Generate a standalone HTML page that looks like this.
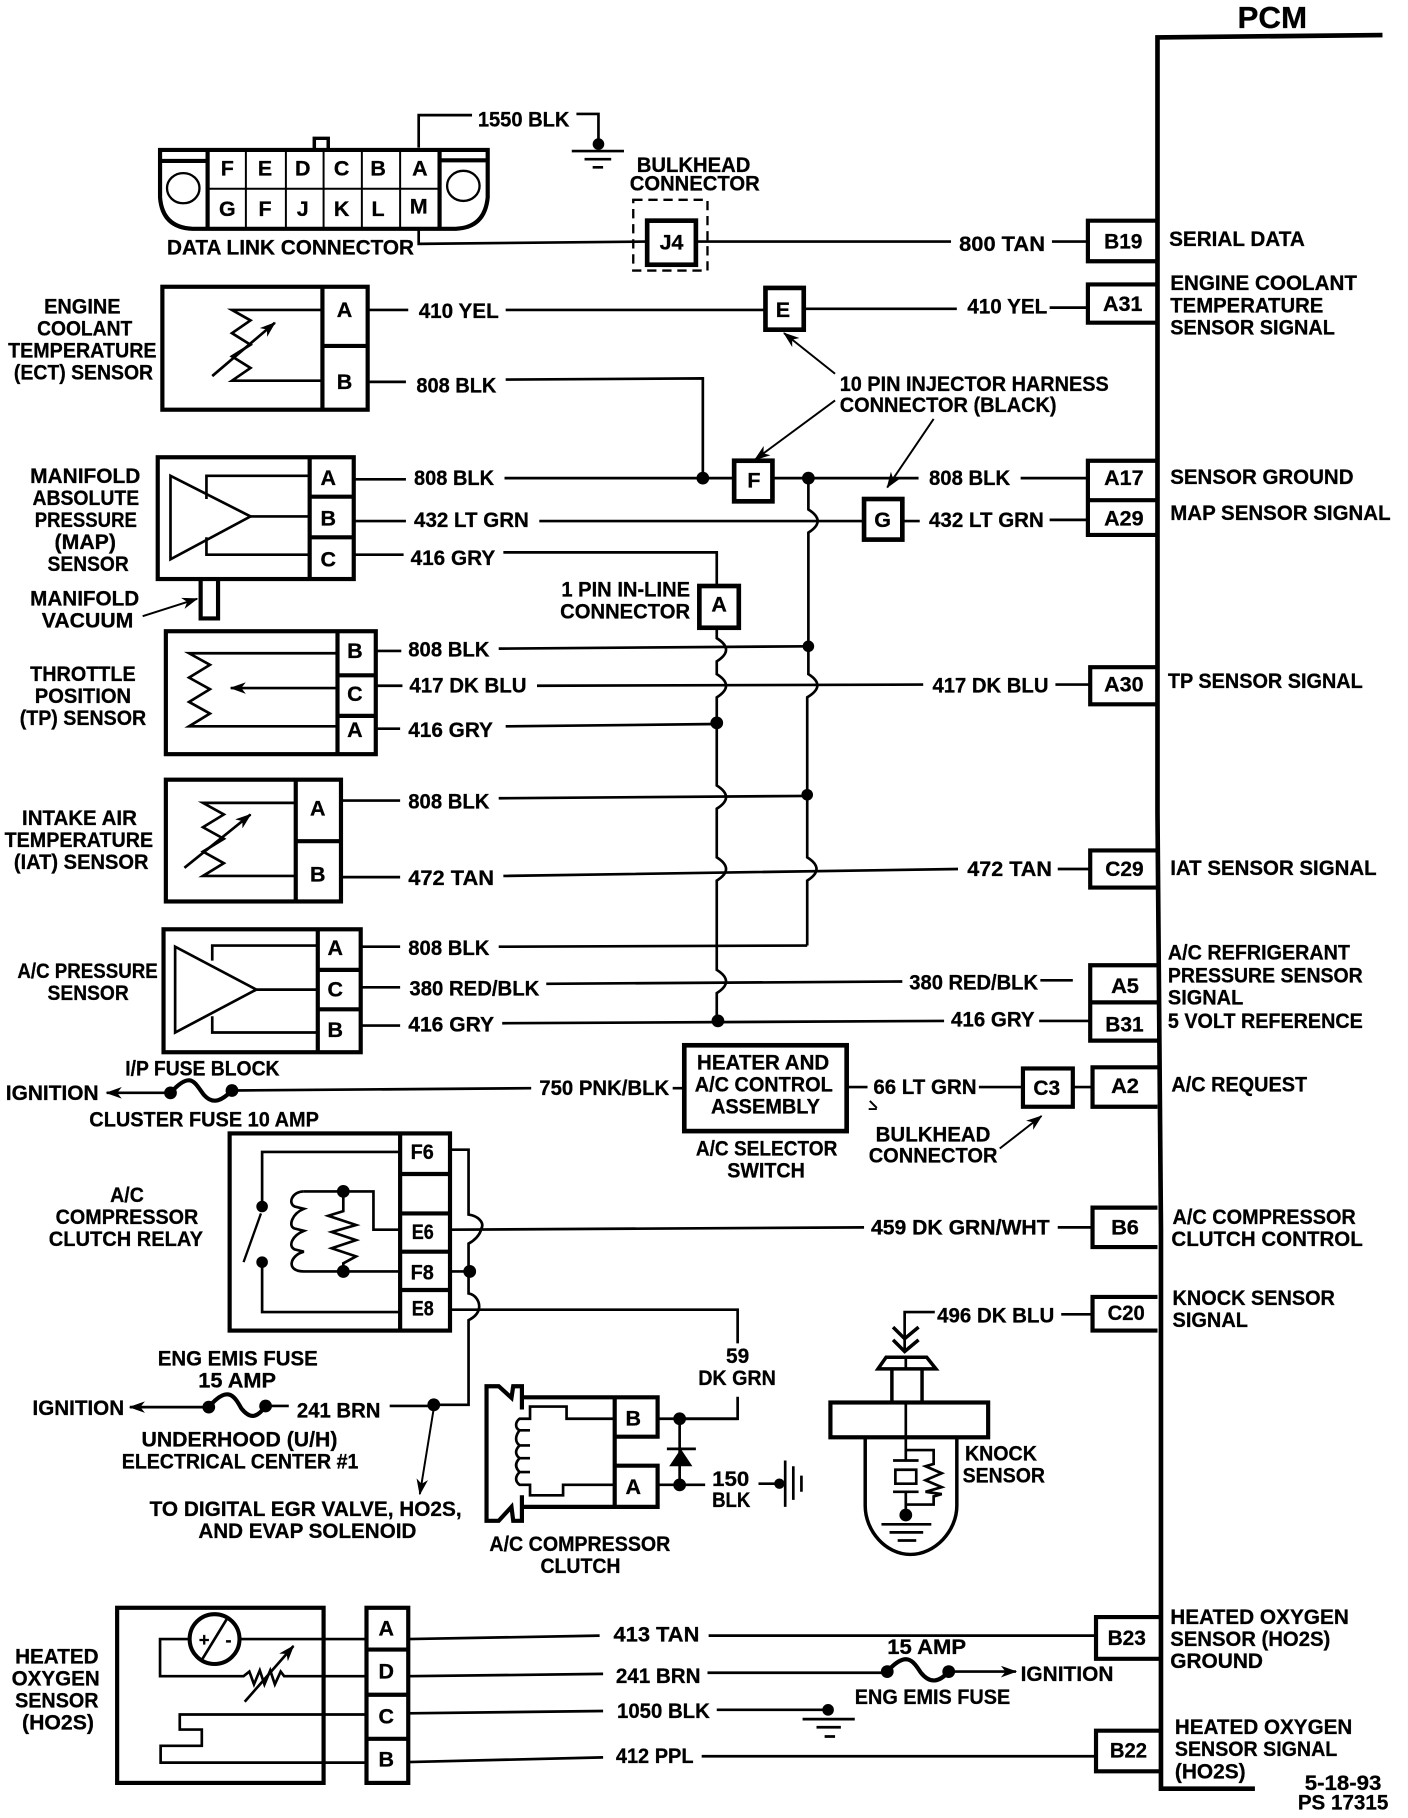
<!DOCTYPE html>
<html>
<head>
<meta charset="utf-8">
<style>
html,body{margin:0;padding:0;background:#fff;width:1408px;height:1818px;overflow:hidden}
svg{display:block}
text{font-family:"Liberation Sans",sans-serif;font-weight:bold;font-size:18.5px;fill:#000;stroke:#000;stroke-width:.25}
.c{text-anchor:middle}
.w{fill:none;stroke:#000;stroke-width:2.3}
.t{fill:none;stroke:#000;stroke-width:1.7}
.b{fill:#fff;stroke:#000;stroke-width:4}
.n{fill:none;stroke:#000;stroke-width:3.6}
.d{fill:#000}
</style>
</head>
<body>
<svg width="1408" height="1818" viewBox="0 0 1214 1567" xmlns="http://www.w3.org/2000/svg">
<defs>
<marker id="a" markerWidth="14" markerHeight="10" refX="13" refY="5" orient="auto" markerUnits="userSpaceOnUse"><path d="M0 0L14 5L0 10L4 5Z" fill="#000"/></marker>
</defs>
<rect width="1214" height="1567" fill="#fff"/>

<!-- PCM -->
<path d="M1192 30L998 32V700L1001 1060V1542H1082" fill="none" stroke="#000" stroke-width="4"/>
<text x="1067" y="24" textLength="60" lengthAdjust="spacingAndGlyphs" style="font-size:26px">PCM</text>

<!-- pin boxes -->
<g class="n">
<path class="n" d="M998 190H938V225H998"/>
<path class="n" d="M998 245H938V278H998"/>
<path class="n" d="M998 397H938V461H998M938 431H998"/>
<path class="n" d="M998 575H940V607H998"/>
<path class="n" d="M998 733H940V765H998"/>
<path class="n" d="M998 832H940V897H998M940 864H998"/>
<path class="n" d="M998 920H942V954H998"/>
<path class="n" d="M998 1041H942V1075H998"/>
<path class="n" d="M998 1118H942V1147H998"/>
<path class="n" d="M1000 1394H945V1430H1000"/>
<path class="n" d="M1000 1492H945V1527H1000"/>
</g>

<!-- Data link connector -->
<path class="n" d="M138 129H420.500V170Q418 196 393 197H166Q140 196 138 170Z"/>
<path class="n" d="M179 129V197M379 129V197M138 138.500H179M379 138H420"/>
<path class="t" d="M179 162.500H379M212 129V197M246.500 129V197M279 129V197M312 129V197M345 129V197"/>
<ellipse class="t" cx="158" cy="162" rx="14" ry="13" style="stroke-width:2"/>
<ellipse class="t" cx="399.500" cy="160" rx="14" ry="13" style="stroke-width:2"/>
<path class="n" d="M271 128V119H283V128" style="stroke-width:3"/>
<text class="c" x="196" y="151">F</text><text class="c" x="228.500" y="151">E</text><text class="c" x="261" y="151">D</text><text class="c" x="294.500" y="151">C</text><text class="c" x="326" y="151">B</text><text class="c" x="362" y="151">A</text>
<text class="c" x="196" y="186">G</text><text class="c" x="228.500" y="186">F</text><text class="c" x="261" y="186">J</text><text class="c" x="294.500" y="186">K</text><text class="c" x="326" y="186">L</text><text class="c" x="361" y="184">M</text>
<path class="w" d="M361 127V99H407M497 98H516V124"/>
<circle class="d" cx="516" cy="124" r="5"/>
<path class="w" d="M493 130H538M504 137H527M511 144H520"/>
<text x="412" y="109" textLength="79" lengthAdjust="spacingAndGlyphs">1550 BLK</text>
<text x="549" y="148" textLength="98" lengthAdjust="spacingAndGlyphs">BULKHEAD</text>
<text x="543" y="164" textLength="112" lengthAdjust="spacingAndGlyphs">CONNECTOR</text>
<text x="144" y="219" textLength="213" lengthAdjust="spacingAndGlyphs">DATA LINK CONNECTOR</text>
<rect x="546" y="172" width="64" height="61" fill="none" stroke="#000" stroke-width="2" stroke-dasharray="8 5"/>
<path class="w" d="M361 197V210L558 208M600 208H820M907 208H938"/>
<rect class="b" x="558" y="190" width="42" height="38"/>
<text class="c" x="579" y="215">J4</text>
<text x="827" y="216" textLength="74" lengthAdjust="spacingAndGlyphs">800 TAN</text>
<text x="952" y="214" textLength="33" lengthAdjust="spacingAndGlyphs">B19</text>
<text x="1008" y="212" textLength="117" lengthAdjust="spacingAndGlyphs">SERIAL DATA</text>

<!-- ECT -->
<rect class="n" x="140" y="247" width="177" height="106"/>
<path class="n" d="M278 247V353M278 298H317"/>
<path class="w" d="M278 267H200L216 276L200 287L216 297L200 307L216 317L200 328H278"/>
<path class="w" d="M183 324L237 278" marker-end="url(#a)"/>
<text x="38" y="270" textLength="66" lengthAdjust="spacingAndGlyphs">ENGINE</text>
<text x="32" y="289" textLength="82" lengthAdjust="spacingAndGlyphs">COOLANT</text>
<text x="7" y="308" textLength="128" lengthAdjust="spacingAndGlyphs">TEMPERATURE</text>
<text x="12" y="327" textLength="120" lengthAdjust="spacingAndGlyphs">(ECT) SENSOR</text>
<text class="c" x="297" y="273">A</text><text class="c" x="297" y="335">B</text>
<path class="w" d="M317 267H352M436 267H660M693 266H825M905 265H938"/>
<path class="w" d="M317 329H350M436 327L606 326V412"/>
<rect class="b" x="660" y="248" width="33" height="36"/>
<text class="c" x="675" y="273">E</text>
<text x="361" y="274" textLength="69" lengthAdjust="spacingAndGlyphs">410 YEL</text>
<text x="834" y="270" textLength="69" lengthAdjust="spacingAndGlyphs">410 YEL</text>
<text x="951" y="268" textLength="34" lengthAdjust="spacingAndGlyphs">A31</text>
<text x="1009" y="250" textLength="161" lengthAdjust="spacingAndGlyphs">ENGINE COOLANT</text>
<text x="1009" y="269" textLength="132" lengthAdjust="spacingAndGlyphs">TEMPERATURE</text>
<text x="1009" y="288" textLength="142" lengthAdjust="spacingAndGlyphs">SENSOR SIGNAL</text>
<text x="359" y="338" textLength="69" lengthAdjust="spacingAndGlyphs">808 BLK</text>
<text x="724" y="337" textLength="232" lengthAdjust="spacingAndGlyphs">10 PIN INJECTOR HARNESS</text>
<text x="724" y="355" textLength="187" lengthAdjust="spacingAndGlyphs">CONNECTOR (BLACK)</text>
<path class="t" d="M720 322L676 287" marker-end="url(#a)"/>
<path class="t" d="M720 345L651 396" marker-end="url(#a)"/>
<path class="t" d="M805 361L765 420" marker-end="url(#a)"/>

<!-- MAP -->
<rect class="n" x="136" y="394" width="169" height="105"/>
<path class="n" d="M267 394V499M267 428H305M267 463H305"/>
<path class="w" d="M147 410V482L216 445Z"/>
<path class="w" d="M178 430V410H267M216 445H267M178 463V478H267"/>
<text x="26" y="416" textLength="95" lengthAdjust="spacingAndGlyphs">MANIFOLD</text>
<text x="28" y="435" textLength="92" lengthAdjust="spacingAndGlyphs">ABSOLUTE</text>
<text x="30" y="454" textLength="88" lengthAdjust="spacingAndGlyphs">PRESSURE</text>
<text x="47" y="473" textLength="53" lengthAdjust="spacingAndGlyphs">(MAP)</text>
<text x="41" y="492" textLength="70" lengthAdjust="spacingAndGlyphs">SENSOR</text>
<text class="c" x="283" y="418">A</text><text class="c" x="283" y="453">B</text><text class="c" x="283" y="488">C</text>
<path class="w" d="M305 413H350M435 412H633M667 412H792M880 412H938"/>
<path class="w" d="M305 449H350M465 449H745M778 449H793M905 448H938"/>
<path class="w" d="M305 478H348M434 476H618V504"/>
<circle class="d" cx="606" cy="412" r="5.500"/><circle class="d" cx="697" cy="412" r="5.500"/>
<rect class="b" x="633" y="397" width="33" height="35"/>
<text class="c" x="650" y="420">F</text>
<rect class="b" x="745" y="430" width="33" height="35"/>
<text class="c" x="761" y="454">G</text>
<rect class="b" x="603" y="505" width="34" height="36"/>
<text class="c" x="620" y="527">A</text>
<text x="357" y="418" textLength="69" lengthAdjust="spacingAndGlyphs">808 BLK</text>
<text x="357" y="454" textLength="99" lengthAdjust="spacingAndGlyphs">432 LT GRN</text>
<text x="354" y="487" textLength="73" lengthAdjust="spacingAndGlyphs">416 GRY</text>
<text x="801" y="418" textLength="70" lengthAdjust="spacingAndGlyphs">808 BLK</text>
<text x="801" y="454" textLength="99" lengthAdjust="spacingAndGlyphs">432 LT GRN</text>
<text x="952" y="418" textLength="34" lengthAdjust="spacingAndGlyphs">A17</text>
<text x="952" y="453" textLength="34" lengthAdjust="spacingAndGlyphs">A29</text>
<text x="1009" y="417" textLength="158" lengthAdjust="spacingAndGlyphs">SENSOR GROUND</text>
<text x="1009" y="448" textLength="190" lengthAdjust="spacingAndGlyphs">MAP SENSOR SIGNAL</text>
<text x="484" y="514" textLength="111" lengthAdjust="spacingAndGlyphs">1 PIN IN-LINE</text>
<text x="483" y="533" textLength="112" lengthAdjust="spacingAndGlyphs">CONNECTOR</text>
<text x="26" y="522" textLength="94" lengthAdjust="spacingAndGlyphs">MANIFOLD</text>
<text x="36" y="541" textLength="79" lengthAdjust="spacingAndGlyphs">VACUUM</text>
<path class="n" d="M173 500V533H188V500"/>
<path class="t" d="M123 531L170 516" marker-end="url(#a)"/>

<!-- vertical buses -->
<path class="w" d="M618 541V550Q634 560 618 570V581Q634 591 618 601V677Q634 687 618 697V739Q634 749 618 759V836Q634 846 618 856V880"/>
<path class="w" d="M697 412V439Q713 449 697 459V581Q713 591 696 601V739Q712 749 696 759V815"/>

<!-- TP -->
<rect class="n" x="143" y="544" width="181" height="106"/>
<path class="n" d="M291 544V650M291 582H324M291 617H324"/>
<path class="w" d="M291 563H163L181 573L163 584L181 594L163 605L181 615L163 626H291"/>
<path class="w" d="M291 593H199" marker-end="url(#a)"/>
<text x="26" y="587" textLength="91" lengthAdjust="spacingAndGlyphs">THROTTLE</text>
<text x="30" y="606" textLength="83" lengthAdjust="spacingAndGlyphs">POSITION</text>
<text x="17" y="625" textLength="109" lengthAdjust="spacingAndGlyphs">(TP) SENSOR</text>
<text class="c" x="306" y="567">B</text><text class="c" x="306" y="604">C</text><text class="c" x="306" y="635">A</text>
<path class="w" d="M324 561H346M430 559L696 557M324 591H347M463 591L796 590M910 590H940M324 628H345M436 626L618 624"/>
<circle class="d" cx="697" cy="557" r="5"/><circle class="d" cx="618" cy="623" r="5.500"/>
<text x="352" y="566" textLength="70" lengthAdjust="spacingAndGlyphs">808 BLK</text>
<text x="353" y="597" textLength="101" lengthAdjust="spacingAndGlyphs">417 DK BLU</text>
<text x="352" y="635" textLength="73" lengthAdjust="spacingAndGlyphs">416 GRY</text>
<text x="804" y="597" textLength="100" lengthAdjust="spacingAndGlyphs">417 DK BLU</text>
<text x="952" y="596" textLength="34" lengthAdjust="spacingAndGlyphs">A30</text>
<text x="1007" y="593" textLength="168" lengthAdjust="spacingAndGlyphs">TP SENSOR SIGNAL</text>

<!-- IAT -->
<rect class="n" x="143" y="672" width="151" height="105"/>
<path class="n" d="M255 672V777M255 725H294"/>
<path class="w" d="M255 692H175L193 702L175 713L193 723L175 734L193 744L175 755H255"/>
<path class="w" d="M159 748L216 702" marker-end="url(#a)"/>
<text x="19" y="711" textLength="99" lengthAdjust="spacingAndGlyphs">INTAKE AIR</text>
<text x="4" y="730" textLength="128" lengthAdjust="spacingAndGlyphs">TEMPERATURE</text>
<text x="12" y="749" textLength="116" lengthAdjust="spacingAndGlyphs">(IAT) SENSOR</text>
<text class="c" x="274" y="703">A</text><text class="c" x="274" y="760">B</text>
<path class="w" d="M294 690H345M430 688L696 686M294 756H345M434 755L826 749M912 749H940"/>
<circle class="d" cx="696" cy="685" r="5"/>
<text x="352" y="697" textLength="70" lengthAdjust="spacingAndGlyphs">808 BLK</text>
<text x="352" y="763" textLength="74" lengthAdjust="spacingAndGlyphs">472 TAN</text>
<text x="834" y="755" textLength="73" lengthAdjust="spacingAndGlyphs">472 TAN</text>
<text x="953" y="755" textLength="33" lengthAdjust="spacingAndGlyphs">C29</text>
<text x="1009" y="754" textLength="178" lengthAdjust="spacingAndGlyphs">IAT SENSOR SIGNAL</text>

<!-- A/C pressure -->
<rect class="n" x="141" y="801" width="170" height="106"/>
<path class="n" d="M274 801V907M274 836H311M274 870H311"/>
<path class="w" d="M151 816V890L221 853Z"/>
<path class="w" d="M183 828V815H274M221 853H274M183 876V890H274"/>
<text x="15" y="843" textLength="121" lengthAdjust="spacingAndGlyphs">A/C PRESSURE</text>
<text x="41" y="862" textLength="70" lengthAdjust="spacingAndGlyphs">SENSOR</text>
<text class="c" x="289" y="823">A</text><text class="c" x="289" y="859">C</text><text class="c" x="289" y="894">B</text>
<path class="w" d="M311 816H345M430 816L696 815M311 851H345M471 848L778 846M897 845H925M311 884H345M433 882L814 880M896 880H940"/>
<circle class="d" cx="619" cy="880" r="5.500"/>
<text x="352" y="823" textLength="70" lengthAdjust="spacingAndGlyphs">808 BLK</text>
<text x="353" y="858" textLength="112" lengthAdjust="spacingAndGlyphs">380 RED/BLK</text>
<text x="352" y="889" textLength="74" lengthAdjust="spacingAndGlyphs">416 GRY</text>
<text x="784" y="853" textLength="111" lengthAdjust="spacingAndGlyphs">380 RED/BLK</text>
<text x="820" y="885" textLength="72" lengthAdjust="spacingAndGlyphs">416 GRY</text>
<text x="958" y="856" textLength="24" lengthAdjust="spacingAndGlyphs">A5</text>
<text x="953" y="889" textLength="33" lengthAdjust="spacingAndGlyphs">B31</text>
<text x="1007" y="827" textLength="157" lengthAdjust="spacingAndGlyphs">A/C REFRIGERANT</text>
<text x="1007" y="847" textLength="168" lengthAdjust="spacingAndGlyphs">PRESSURE SENSOR</text>
<text x="1007" y="866" textLength="65" lengthAdjust="spacingAndGlyphs">SIGNAL</text>
<text x="1007" y="886" textLength="168" lengthAdjust="spacingAndGlyphs">5 VOLT REFERENCE</text>

<!-- Ignition / cluster fuse -->
<path class="w" d="M147 942H92" marker-end="url(#a)"/>
<path class="n" d="M147 942C165 922 168 934 176 944C184 953 192 948 200 940"/>
<circle class="d" cx="147" cy="942" r="5.500"/><circle class="d" cx="200" cy="940" r="5.500"/>
<path class="w" d="M200 940L458 938M580 938H590"/>
<text x="108" y="927" textLength="133" lengthAdjust="spacingAndGlyphs">I/P FUSE BLOCK</text>
<text x="5" y="948" textLength="80" lengthAdjust="spacingAndGlyphs">IGNITION</text>
<text x="77" y="971" textLength="198" lengthAdjust="spacingAndGlyphs">CLUSTER FUSE 10 AMP</text>
<text x="465" y="944" textLength="112" lengthAdjust="spacingAndGlyphs">750 PNK/BLK</text>
<rect class="n" x="590" y="901" width="140" height="74" style="stroke-width:4"/>
<text x="601" y="922" textLength="114" lengthAdjust="spacingAndGlyphs">HEATER AND</text>
<text x="599" y="941" textLength="119" lengthAdjust="spacingAndGlyphs">A/C CONTROL</text>
<text x="613" y="960" textLength="94" lengthAdjust="spacingAndGlyphs">ASSEMBLY</text>
<text x="600" y="996" textLength="122" lengthAdjust="spacingAndGlyphs">A/C SELECTOR</text>
<text x="627" y="1015" textLength="67" lengthAdjust="spacingAndGlyphs">SWITCH</text>
<path class="w" d="M731 937H748M844 937H881M925 937H942"/>
<rect class="n" x="882" y="921" width="43" height="33"/>
<text x="753" y="943" textLength="89" lengthAdjust="spacingAndGlyphs">66 LT GRN</text>
<text x="891" y="944" textLength="23" lengthAdjust="spacingAndGlyphs">C3</text>
<text x="958" y="942" textLength="24" lengthAdjust="spacingAndGlyphs">A2</text>
<text x="1010" y="941" textLength="117" lengthAdjust="spacingAndGlyphs">A/C REQUEST</text>
<text x="755" y="984" textLength="99" lengthAdjust="spacingAndGlyphs">BULKHEAD</text>
<text x="749" y="1002" textLength="111" lengthAdjust="spacingAndGlyphs">CONNECTOR</text>
<path class="t" d="M862 990L898 962" marker-end="url(#a)"/>
<path class="t" d="M750 949L756 955M749 956H756"/>

<!-- relay -->
<rect class="n" x="198" y="977" width="190" height="170"/>
<path class="n" d="M345 977V1147M345 1012H388M345 1046H388M345 1079H388M345 1112H388"/>
<path class="w" d="M345 993H226V1040M226 1088V1131H345"/>
<path class="t" d="M210 1088L225 1046" style="stroke-width:2"/>
<circle class="d" cx="226" cy="1040" r="5"/><circle class="d" cx="226" cy="1088" r="5"/>
<path class="w" d="M262 1027C252 1027 248 1037 254 1040L262 1042C252 1046 248 1057 254 1059L262 1061C252 1065 248 1074 254 1077L262 1079C250 1082 246 1096 262 1096H345"/>
<path class="w" d="M262 1027H322V1060H345M296 1027V1044L283 1048L307 1056L286 1062L307 1069L286 1076L307 1083L296 1089V1096"/>
<circle class="d" cx="296" cy="1027" r="5.500"/><circle class="d" cx="296" cy="1096" r="5.500"/>
<text x="95" y="1036" textLength="29" lengthAdjust="spacingAndGlyphs">A/C</text>
<text x="48" y="1055" textLength="123" lengthAdjust="spacingAndGlyphs">COMPRESSOR</text>
<text x="42" y="1074" textLength="133" lengthAdjust="spacingAndGlyphs">CLUTCH RELAY</text>
<text x="354" y="999" textLength="20" lengthAdjust="spacingAndGlyphs">F6</text>
<text x="355" y="1068" textLength="19" lengthAdjust="spacingAndGlyphs">E6</text>
<text x="354" y="1103" textLength="20" lengthAdjust="spacingAndGlyphs">F8</text>
<text x="355" y="1134" textLength="19" lengthAdjust="spacingAndGlyphs">E8</text>
<path class="w" d="M388 991H404V1047C412 1048 418 1054 415 1059C414 1065 408 1070 404 1072V1115C410 1116 414 1122 413 1128C412 1133 408 1136 404 1138V1211H374"/>
<path class="w" d="M388 1096H405"/><circle class="d" cx="405" cy="1096" r="5.500"/>
<path class="w" d="M388 1060L745 1058M912 1058H942"/>
<path class="w" d="M388 1129H636V1158M636 1204V1223H586"/>
<text x="751" y="1064" textLength="154" lengthAdjust="spacingAndGlyphs">459 DK GRN/WHT</text>
<text x="958" y="1064" textLength="24" lengthAdjust="spacingAndGlyphs">B6</text>
<text x="1011" y="1055" textLength="158" lengthAdjust="spacingAndGlyphs">A/C COMPRESSOR</text>
<text x="1010" y="1074" textLength="165" lengthAdjust="spacingAndGlyphs">CLUTCH  CONTROL</text>
<text x="955" y="1138" textLength="32" lengthAdjust="spacingAndGlyphs">C20</text>
<text x="1011" y="1125" textLength="140" lengthAdjust="spacingAndGlyphs">KNOCK SENSOR</text>
<text x="1011" y="1144" textLength="65" lengthAdjust="spacingAndGlyphs">SIGNAL</text>
<text x="626" y="1175" textLength="20" lengthAdjust="spacingAndGlyphs">59</text>
<text x="602" y="1194" textLength="67" lengthAdjust="spacingAndGlyphs">DK GRN</text>

<!-- eng emis fuse -->
<text x="136" y="1177" textLength="138" lengthAdjust="spacingAndGlyphs">ENG EMIS  FUSE</text>
<text x="171" y="1196" textLength="67" lengthAdjust="spacingAndGlyphs">15 AMP</text>
<text x="28" y="1220" textLength="79" lengthAdjust="spacingAndGlyphs">IGNITION</text>
<text x="256" y="1222" textLength="72" lengthAdjust="spacingAndGlyphs">241 BRN</text>
<path class="w" d="M178 1213H112" marker-end="url(#a)"/>
<path class="n" d="M180 1213C196 1194 202 1203 208 1214C216 1224 222 1222 229 1212"/>
<circle class="d" cx="180" cy="1213" r="5.500"/><circle class="d" cx="229" cy="1212" r="5.500"/>
<path class="w" d="M229 1212H249M336 1212H374"/>
<circle class="d" cx="374" cy="1211" r="5.500"/>
<path class="t" d="M374 1214L362 1288" marker-end="url(#a)"/>
<text x="122" y="1247" textLength="169" lengthAdjust="spacingAndGlyphs">UNDERHOOD (U/H)</text>
<text x="105" y="1266" textLength="204" lengthAdjust="spacingAndGlyphs">ELECTRICAL CENTER #1</text>
<text x="129" y="1307" textLength="269" lengthAdjust="spacingAndGlyphs">TO DIGITAL EGR VALVE, HO2S,</text>
<text x="171" y="1326" textLength="188" lengthAdjust="spacingAndGlyphs">AND EVAP SOLENOID</text>

<!-- clutch -->
<path class="n" d="M450 1215V1195H442.500L441 1205L430 1195H419.500V1311H430L441 1299L442.500 1311H450V1289"/>
<path class="n" d="M450 1204.500H567V1238.500H530M530 1263.500H567V1299H450M530 1204.500V1299"/>
<path class="w" d="M529 1223H488.500V1212.500H457V1223H448C444 1226 444 1231 448 1233H457M448 1233C444 1238 444 1243 448 1246H457M448 1246C444 1250 444 1254 448 1257H457M448 1257C444 1261 444 1265 448 1269H457M448 1269C444 1273 444 1277 448 1280H457V1289H485.500V1280H529"/>
<text class="c" x="546" y="1229">B</text><text class="c" x="546" y="1288">A</text>
<path class="w" d="M567 1223H636M567 1280H608M586 1223V1280"/>
<circle class="d" cx="586" cy="1223" r="5.500"/><circle class="d" cx="586" cy="1280" r="5.500"/>
<path class="d" d="M577 1264H597L587 1249Z"/><path class="w" d="M575 1249H600"/>
<text x="614" y="1281" textLength="32" lengthAdjust="spacingAndGlyphs">150</text>
<text x="614" y="1299" textLength="33" lengthAdjust="spacingAndGlyphs">BLK</text>
<path class="w" d="M654 1279H673"/><circle class="d" cx="672" cy="1279" r="4.500"/>
<path class="w" d="M677 1259V1299M684 1264V1293M691 1272V1286"/>
<text x="422" y="1337" textLength="156" lengthAdjust="spacingAndGlyphs">A/C COMPRESSOR</text>
<text x="466" y="1356" textLength="69" lengthAdjust="spacingAndGlyphs">CLUTCH</text>

<!-- knock sensor -->
<path class="w" d="M806 1131H780V1165M915 1133H942"/>
<path class="w" d="M770 1144L780 1154L792 1144M770 1155L780 1165L792 1155" style="stroke-width:3"/>
<path class="n" d="M757 1180L764 1170H799L807 1180Z" style="stroke-width:3"/>
<path class="n" d="M769 1180V1208M795 1180V1208" style="stroke-width:3"/>
<rect class="n" x="716" y="1209" width="136" height="30"/>
<path class="w" d="M781 1170V1180M781 1209V1259M770 1259H792M772 1267H790V1279H772ZM770 1286H792M781 1286V1306"/>
<path class="n" d="M746 1239V1298C746 1320 764 1340 785 1340C806 1340 825 1320 825 1298V1239" style="stroke-width:3"/>
<path class="w" d="M781 1250H805V1262L798 1264L812 1270L798 1276L812 1282L798 1286L812 1288L805 1290V1297H781"/>
<circle class="d" cx="781" cy="1306" r="5.500"/>
<path class="w" d="M760 1314H803M767 1321H796M774 1328H790"/>
<text x="808" y="1140" textLength="101" lengthAdjust="spacingAndGlyphs">496 DK BLU</text>
<text x="832" y="1259" textLength="62" lengthAdjust="spacingAndGlyphs">KNOCK</text>
<text x="830" y="1278" textLength="71" lengthAdjust="spacingAndGlyphs">SENSOR</text>

<!-- HO2S -->
<rect class="n" x="101" y="1386" width="178" height="151"/>
<rect class="n" x="316" y="1386" width="36" height="151"/>
<path class="n" d="M316 1422H352M316 1461H352M316 1499H352"/>
<circle cx="185" cy="1413" r="21.500" fill="none" stroke="#000" stroke-width="3.500"/>
<path class="w" d="M207 1413H316M163 1413H138V1445H210L215 1441L219 1452L224 1440L228 1452L233 1440L237 1452L242 1441L245 1445H316"/>
<path class="w" d="M174 1431L196 1395"/>
<text class="c" x="176" y="1419" style="font-size:16px">+</text>
<text class="c" x="197" y="1419" style="font-size:16px">-</text>
<path class="w" d="M211 1467L253 1419" marker-end="url(#a)"/>
<path class="w" d="M316 1478H155V1491H174V1505H138.500V1519.500H316"/>
<text x="13" y="1434" textLength="72" lengthAdjust="spacingAndGlyphs">HEATED</text>
<text x="10" y="1453" textLength="76" lengthAdjust="spacingAndGlyphs">OXYGEN</text>
<text x="13" y="1472" textLength="72" lengthAdjust="spacingAndGlyphs">SENSOR</text>
<text x="19" y="1491" textLength="62" lengthAdjust="spacingAndGlyphs">(HO2S)</text>
<text class="c" x="333" y="1410">A</text><text class="c" x="333" y="1447">D</text><text class="c" x="333" y="1486">C</text><text class="c" x="333" y="1523">B</text>
<path class="w" d="M352 1413L517 1410M611 1410H945"/>
<path class="w" d="M352 1445L520 1443M610 1442H765"/>
<path class="w" d="M352 1477L520 1475M618 1474H714"/>
<path class="w" d="M352 1519L520 1515M605 1514H945"/>
<path class="n" d="M765 1441C781 1423 787 1431 794 1442C802 1452 810 1450 818 1441"/>
<circle class="d" cx="765" cy="1441" r="5.500"/><circle class="d" cx="818" cy="1441" r="5.500"/>
<path class="w" d="M818 1441H876" marker-end="url(#a)"/>
<circle class="d" cx="714" cy="1474" r="5"/>
<path class="w" d="M692 1482H737M704 1489H725M711 1497H720"/>
<text x="529" y="1415" textLength="74" lengthAdjust="spacingAndGlyphs">413 TAN</text>
<text x="531" y="1451" textLength="73" lengthAdjust="spacingAndGlyphs">241 BRN</text>
<text x="532" y="1481" textLength="80" lengthAdjust="spacingAndGlyphs">1050 BLK</text>
<text x="531" y="1520" textLength="67" lengthAdjust="spacingAndGlyphs">412 PPL</text>
<text x="765" y="1426" textLength="68" lengthAdjust="spacingAndGlyphs">15 AMP</text>
<text x="880" y="1449" textLength="80" lengthAdjust="spacingAndGlyphs">IGNITION</text>
<text x="737" y="1469" textLength="134" lengthAdjust="spacingAndGlyphs">ENG EMIS FUSE</text>
<text x="955" y="1418" textLength="33" lengthAdjust="spacingAndGlyphs">B23</text>
<text x="957" y="1515" textLength="32" lengthAdjust="spacingAndGlyphs">B22</text>
<text x="1009" y="1400" textLength="154" lengthAdjust="spacingAndGlyphs">HEATED OXYGEN</text>
<text x="1009" y="1419" textLength="138" lengthAdjust="spacingAndGlyphs">SENSOR (HO2S)</text>
<text x="1009" y="1438" textLength="80" lengthAdjust="spacingAndGlyphs">GROUND</text>
<text x="1013" y="1495" textLength="153" lengthAdjust="spacingAndGlyphs">HEATED OXYGEN</text>
<text x="1013" y="1514" textLength="140" lengthAdjust="spacingAndGlyphs">SENSOR SIGNAL</text>
<text x="1013" y="1533" textLength="61" lengthAdjust="spacingAndGlyphs">(HO2S)</text>
<text x="1125" y="1543" textLength="66" lengthAdjust="spacingAndGlyphs">5-18-93</text>
<text x="1119" y="1560" textLength="78" lengthAdjust="spacingAndGlyphs">PS 17315</text>
</svg>
</body>
</html>
